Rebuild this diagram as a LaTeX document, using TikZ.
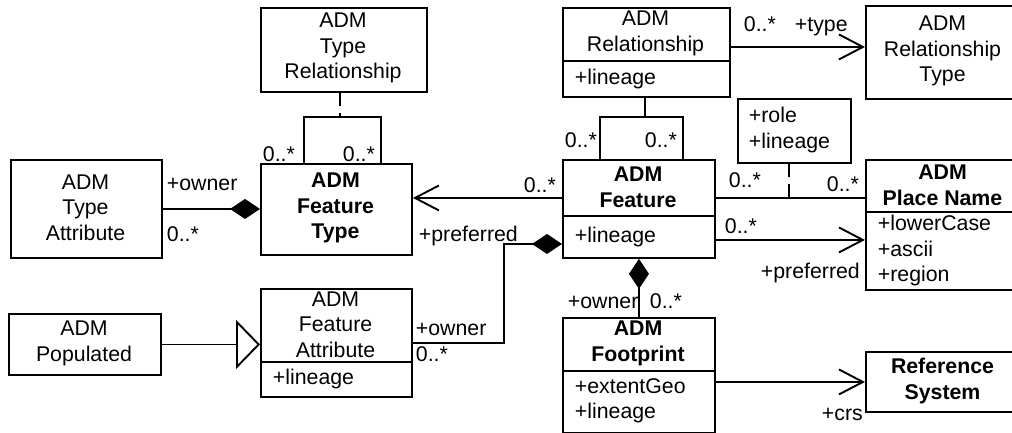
\documentclass[tikz,border=0pt]{standalone}
\usepackage{fontspec}
\setmainfont{Liberation Sans}
\usetikzlibrary{arrows.meta}
\newcommand\umlfont{\fontsize{21.3}{25.5}\selectfont}
\begin{document}
\begin{tikzpicture}[x=1pt,y=-1pt,line width=1.9pt,
  cls/.style={draw, line width=1.9pt, inner sep=0pt, anchor=north west},
  ttl/.style={inner sep=0pt, align=center, font=\umlfont},
  attr/.style={inner sep=0pt, align=left, anchor=west, font=\umlfont},
  lbl/.style={inner sep=0pt, anchor=base west, font=\umlfont},
  comp/.style={-{Diamond[length=30pt,width=20pt]}},
  nav/.style={-{Straight Barb[length=24pt,width=25pt]}},
  gen/.style={-{Triangle[open,length=24pt,width=49pt]}},
  dashlink/.style={dash pattern=on 13pt off 7.5pt}]
\useasboundingbox (0,0) rectangle (1012,433);
\clip (0,0) rectangle (1012,433);

% class boxes
\node[cls, minimum width=166pt, minimum height=84pt]  (trel)   at (260,7)   {};
\node[cls, minimum width=151pt, minimum height=91pt]  (ftype)  at (260,163) {};
\node[cls, minimum width=151pt, minimum height=98pt]  (tattr)  at (10,159)  {};
\node[cls, minimum width=152pt, minimum height=61pt]  (pop)    at (8,313)   {};
\node[cls, minimum width=151pt, minimum height=108pt] (fattr)  at (260,288) {};
\node[cls, minimum width=167pt, minimum height=89pt]  (rel)    at (562,7)   {};
\node[cls, minimum width=155pt, minimum height=93pt]  (rtype)  at (865,5)   {};
\node[cls, minimum width=152pt, minimum height=98pt]  (feat)   at (562,159) {};
\node[cls, minimum width=113pt, minimum height=64pt]  (aclass) at (737,98)  {};
\node[cls, minimum width=155pt, minimum height=130pt] (pname)  at (865,159) {};
\node[cls, minimum width=152pt, minimum height=115pt] (foot)   at (562,317) {};
\node[cls, minimum width=155pt, minimum height=60pt]  (ref)    at (865,351) {};

% compartment dividers
\draw (fattr.west |- 0,362) -- (fattr.east |- 0,362);
\draw (rel.west |- 0,61)    -- (rel.east |- 0,61);
\draw (feat.west |- 0,216)  -- (feat.east |- 0,216);
\draw (pname.west |- 0,212) -- (pname.east |- 0,212);
\draw (foot.west |- 0,371)  -- (foot.east |- 0,371);

% class names and attributes
\node[ttl] at (343,48)      {ADM\\Type\\Relationship};
\node[ttl] at (335.5,208)   {\bfseries ADM\\\bfseries Feature\\\bfseries Type};
\node[ttl] at (85.5,207.5)  {ADM\\Type\\Attribute};
\node[ttl] at (84,343.5)    {ADM\\Populated};
\node[ttl] at (335.5,324.5) {ADM\\Feature\\Attribute};
\node[attr] at (272,379)    {+lineage};
\node[ttl] at (645.5,33.5)  {ADM\\Relationship};
\node[attr] at (574,78.5)   {+lineage};
\node[ttl] at (942.5,51)    {ADM\\Relationship\\Type};
\node[ttl] at (638,187.5)   {\bfseries ADM\\\bfseries Feature};
\node[attr] at (574,236.5)  {+lineage};
\node[attr] at (748,130)    {+role\\+lineage};
\node[ttl] at (942.5,185.5) {\bfseries ADM\\\bfseries Place Name};
\node[attr] at (877,250.5)  {+lowerCase\\+ascii\\+region};
\node[ttl] at (638,343.5)   {\bfseries ADM\\\bfseries Footprint};
\node[attr] at (574,401)    {+extentGeo\\+lineage};
\node[ttl] at (942.5,381)   {\bfseries Reference\\\bfseries System};

% connectors
\draw[comp] (tattr.east) -- (tattr.east -| ftype.west);
\draw[nav]  ([yshift=11pt]feat.west) -- ([yshift=11pt]feat.west -| ftype.east);
\draw[comp] (fattr.east) -- ++(91,0) |- ([yshift=-35pt]feat.west);
\draw[gen]  (pop.east) -- (pop.east -| fattr.west);
\draw[nav]  ([yshift=5.5pt]rel.east) -- ([yshift=5.5pt]rel.east -| rtype.west);
\draw       ([yshift=11pt]feat.east) -- ([yshift=11pt]feat.east -| pname.west);
\draw[nav]  ([yshift=-31pt]feat.east) -- ([yshift=-31pt]feat.east -| pname.west);
\draw[comp] (foot.north) -- (feat.south);
\draw[nav]  (foot.east |- ref.west) -- (ref.west);

% reflexive associations and their association classes
\draw ([xshift=44pt]ftype.north west) -- ++(0,-46) -| ([xshift=121pt]ftype.north west);
\coordinate (tq) at (340,117);
\draw[dashlink] (trel.south -| tq) -- (tq);
\draw ([xshift=38pt]feat.north west) -- ++(0,-42) -| ([xshift=121pt]feat.north west);
\coordinate (fq) at (645,117);
\draw (rel.south -| fq) -- (fq);
\coordinate (aq) at (789,197);
\draw[dashlink] (aclass.south -| aq) -- (aq);

% role names and multiplicities
\node[lbl] at (262,161) {0..*};
\node[lbl] at (342,161) {0..*};
\node[lbl] at (166,190) {+owner};
\node[lbl] at (166,241) {0..*};
\node[lbl] at (418,241) {+preferred};
\node[lbl] at (523,192) {0..*};
\node[lbl] at (564,147) {0..*};
\node[lbl] at (644,147) {0..*};
\node[lbl] at (743,32)  {0..*};
\node[lbl] at (794,32)  {+type};
\node[lbl] at (728,187) {0..*};
\node[lbl] at (826,191) {0..*};
\node[lbl] at (724,233) {0..*};
\node[lbl] at (760,278) {+preferred};
\node[lbl] at (567,308) {+owner};
\node[lbl] at (649,308) {0..*};
\node[lbl] at (821,420) {+crs};
\node[lbl] at (415,335) {+owner};
\node[lbl] at (415,361) {0..*};
\end{tikzpicture}
\end{document}
